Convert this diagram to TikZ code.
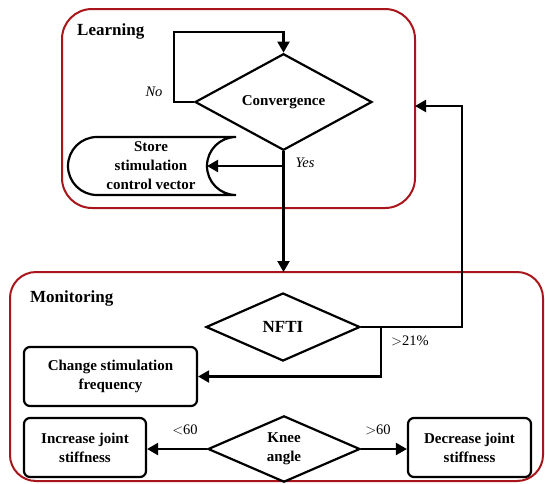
\documentclass[tikz,border=0pt]{standalone}
\usepackage{fontspec}
\setmainfont{Liberation Serif}
\usetikzlibrary{shapes.geometric,arrows.meta}
\definecolor{groupred}{RGB}{168,22,28}
\tikzset{
  line/.style={line width=2.2pt,black},
  arr/.style={line,-{Triangle[length=11pt,width=12pt]}},
  group/.style={draw=groupred,line width=2pt,rounded corners=30pt},
  grouptitle/.style={font=\fontsize{17}{18}\selectfont\bfseries,anchor=west,inner sep=0pt},
  decision/.style={diamond,draw,line width=2.2pt,inner sep=0pt,align=center,
    font=\fontsize{15}{19}\selectfont\bfseries},
  action/.style={draw,line width=2.2pt,rounded corners=6pt,align=center,inner sep=0pt,
    font=\fontsize{15}{19}\selectfont\bfseries},
  tag/.style={font=\fontsize{14.5}{16}\selectfont,inner sep=0pt},
  itag/.style={font=\fontsize{14.5}{16}\selectfont\itshape,inner sep=0pt},
}
\begin{document}
\begin{tikzpicture}[x=1pt,y=-1pt]
\useasboundingbox (0,0) rectangle (545,483);

% group frames
\draw[group] (62,9) rectangle (415,208);
\draw[group,rounded corners=26pt] (10,272) rectangle (543,481);
\node[grouptitle] (tlearn) at (77,31) {Learning};
\node[grouptitle] (tmon) at (30,298) {Monitoring};

% learning stage
\node[decision,minimum width=177pt,minimum height=69pt] (conv) at (283.5,102) {Convergence};
\node[action,draw=none] (store) at (151,166)
  {Store\\stimulation\\control vector};
% stored-data outline: round left end, hollow right end
\draw[line] (236,137) -- (97,137) arc[start angle=270,end angle=90,radius=29]
  -- (236,195) arc[start angle=90,end angle=270,radius=29];
\coordinate (storein) at (207,166);

% monitoring stage
\node[decision,minimum width=154pt,minimum height=68pt,font=\fontsize{17}{19}\selectfont\bfseries] (nfti) at (283,327) {NFTI};
\node[action,minimum width=173pt,minimum height=59pt] (freq) at (110.5,376.5) {Change stimulation\\frequency};
\node[decision,minimum width=152pt,minimum height=66pt] (knee) at (284,449) {Knee\\angle};
\node[action,minimum width=122pt,minimum height=59pt] (inc) at (85,447.5) {Increase joint\\stiffness};
\node[action,minimum width=123pt,minimum height=59pt] (dec) at (469.5,447.5) {Decrease joint\\stiffness};

% connectors
\coordinate (loopl) at (174,102);
\coordinate (loopt) at (174,32);
\draw[arr] (conv.west) -- (loopl) -- (loopt) -| (conv.north);
\node[itag] (no) at (154,92) {No};

\coordinate (yesjoin) at (283.5,166);
\draw[arr] (yesjoin) -- (storein);
\node[itag] (yes) at (305,163) {Yes};
\coordinate (monin) at (283.5,272);
\draw[arr] (conv.south) -- (monin);

\coordinate (fbr) at (462,323);
\coordinate (learnin) at (415,106);
\draw[arr] (nfti.east) -- (fbr |- nfti.east) -- (fbr |- learnin) -- (learnin);

\coordinate (fdown) at (381,323);
\draw[arr] (nfti.east) -- (fdown |- nfti.east) -- (fdown |- freq.east) -- (freq.east);
\node[tag] (gt21) at (410,341) {$>$21\%};

\draw[arr] (knee.west) -- (knee.west -| inc.east);
\node[tag] (lt60) at (185,430) {$<$60};
\draw[arr] (knee.east) -- (knee.east -| dec.west);
\node[tag] (gt60) at (378,430) {$>$60};
\end{tikzpicture}
\end{document}
